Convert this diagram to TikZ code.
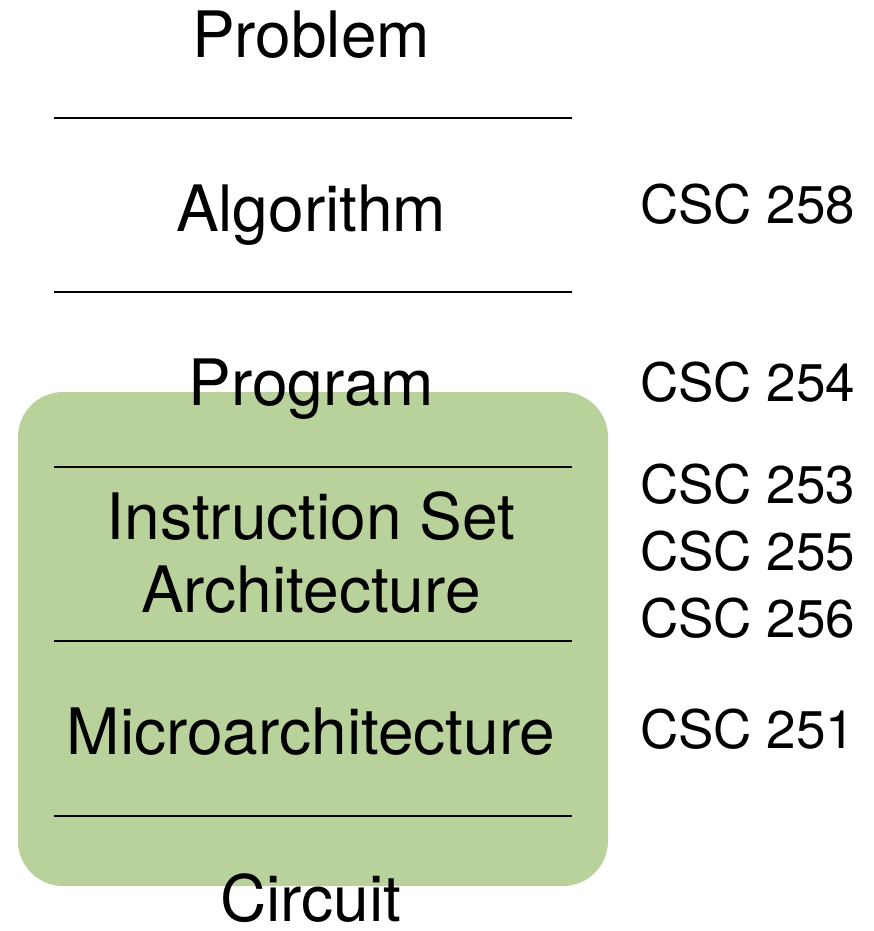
\documentclass[tikz,border=0pt]{standalone}
\usepackage{fontspec}
\setmainfont{TeX Gyre Heros}
\usetikzlibrary{positioning}
\definecolor{layergreen}{RGB}{185,210,155}
\tikzset{
  layer/.style={anchor=base, inner sep=0pt, font=\fontsize{64}{74}\selectfont},
  course/.style={anchor=base west, inner sep=0pt, font=\fontsize{53}{62}\selectfont},
  sep/.style={line width=2pt}
}

\begin{document}
\begin{tikzpicture}[x=1pt, y=-1pt]
\useasboundingbox (0,0) rectangle (873,931);

% highlighted region
\fill[layergreen, rounded corners=45pt] (18,392) rectangle (608,886);

% separators
\foreach \y in {118,292,467,641,816} {
    \draw[sep] (54,\y) -- (572,\y);
}

% Layers
\node[layer] (problem) at (311,58) {Problem};
\node[layer] (algorithm) at (311,231) {Algorithm};
\node[layer] (program) at (311,405) {Program};
\node[layer] (isa1) at (311,539) {Instruction Set};
\node[layer] (isa2) at (311,612) {Architecture};
\node[layer] (micro) at (311,754) {Microarchitecture};
\node[layer] (circuit) at (311,921) {Circuit};

% Courses
\node[course] (c258) at (640,223) {CSC 258};
\node[course] (c254) at (640,401) {CSC 254};
\node[course] (c253) at (640,503) {CSC 253};
\node[course] (c255) at (640,570) {CSC 255};
\node[course] (c256) at (640,637) {CSC 256};
\node[course] (c251) at (640,748) {CSC 251};

\end{tikzpicture}
\end{document}
